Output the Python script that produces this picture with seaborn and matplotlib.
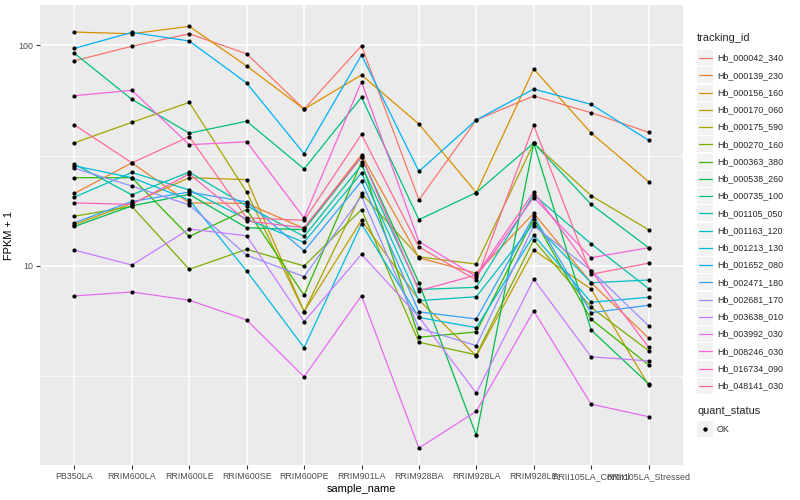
import matplotlib
matplotlib.use("Agg")
import matplotlib.pyplot as plt
from matplotlib.lines import Line2D
from matplotlib.patches import Rectangle
from matplotlib.ticker import FixedLocator, NullFormatter
import seaborn as sns
import pandas as pd

samples = ["PB350LA", "RRIM600LA", "RRIM600LE", "RRIM600SE", "RRIM600PE",
           "RRIM901LA", "RRIM928BA", "RRIM928LA", "RRIM928LE",
           "RRII105LA_Control", "RRII105LA_Stressed"]

tracking_ids = ["Hb_000042_340", "Hb_000139_230", "Hb_000156_160", "Hb_000170_060",
                "Hb_000175_590", "Hb_000270_160", "Hb_000363_380", "Hb_000538_260",
                "Hb_000735_100", "Hb_001105_050", "Hb_001163_120", "Hb_001213_130",
                "Hb_001652_080", "Hb_002471_180", "Hb_002681_170", "Hb_003638_010",
                "Hb_003992_030", "Hb_008246_030", "Hb_016734_090", "Hb_048141_030"]

# FPKM + 1 per sample (same order as samples)
hb_000042_340 = [84.9, 98.7, 112.5, 91.3, 51.3, 99.3, 19.9, 45.8, 58.8, 49.4, 40.3]
hb_000139_230 = [21.3, 29.3, 19.3, 19.2, 14.8, 31.9, 10.9, 9.27, 17.3, 8.40, 4.72]
hb_000156_160 = [114.5, 112.5, 121.5, 80.4, 51.3, 73.2, 43.9, 21.5, 77.9, 40.0, 24.1]
hb_000170_060 = [15.4, 19.2, 25.1, 24.6, 6.22, 16.1, 7.02, 3.92, 11.8, 7.87, 2.89]
hb_000175_590 = [36.1, 44.7, 55.0, 21.6, 6.22, 21.3, 11.0, 10.2, 36.0, 20.8, 14.6]
hb_000270_160 = [16.8, 18.6, 9.66, 11.9, 10.0, 18.0, 4.52, 3.96, 13.1, 6.50, 4.14]
hb_000363_380 = [25.1, 25.1, 13.6, 18.0, 7.37, 29.6, 4.76, 5.03, 16.4, 5.74, 3.57]
hb_000538_260 = [15.1, 18.7, 21.1, 14.9, 14.6, 31.1, 8.40, 1.71, 36.0, 5.13, 2.93]
hb_000735_100 = [91.7, 56.8, 39.9, 45.2, 27.5, 58.0, 16.2, 21.5, 36.0, 19.0, 12.1]
hb_001105_050 = [28.9, 21.0, 26.6, 18.7, 13.6, 28.6, 7.83, 8.01, 21.0, 12.6, 7.90]
hb_001163_120 = [20.5, 26.5, 22.1, 16.3, 12.8, 26.4, 6.97, 7.26, 15.6, 8.40, 8.64]
hb_001213_130 = [28.4, 25.1, 19.9, 9.49, 4.27, 15.5, 5.85, 5.26, 13.8, 6.85, 7.22]
hb_001652_080 = [96.6, 114.1, 104.3, 67.3, 32.2, 90.1, 26.8, 45.8, 63.2, 53.9, 37.1]
hb_002471_180 = [15.7, 19.6, 21.6, 19.5, 11.7, 24.2, 6.20, 5.76, 16.8, 6.15, 6.64]
hb_002681_170 = [27.7, 23.0, 18.9, 11.2, 8.95, 20.7, 5.24, 4.36, 15.2, 9.54, 5.37]
hb_003638_010 = [11.8, 10.1, 14.7, 13.7, 5.60, 11.3, 5.88, 2.66, 8.71, 3.88, 3.72]
hb_003992_030 = [7.32, 7.63, 7.00, 5.70, 3.15, 7.34, 1.50, 2.20, 6.26, 2.37, 2.08]
hb_008246_030 = [59.0, 62.4, 35.4, 36.5, 16.5, 68.2, 12.9, 8.95, 20.4, 10.9, 12.1]
hb_016734_090 = [19.3, 19.0, 26.1, 16.0, 14.9, 31.2, 7.73, 9.11, 21.6, 9.54, 4.29]
hb_048141_030 = [43.5, 29.3, 38.5, 16.5, 16.1, 39.4, 12.2, 8.64, 43.3, 9.17, 10.3]

series = [hb_000042_340, hb_000139_230, hb_000156_160, hb_000170_060, hb_000175_590,
          hb_000270_160, hb_000363_380, hb_000538_260, hb_000735_100, hb_001105_050,
          hb_001163_120, hb_001213_130, hb_001652_080, hb_002471_180, hb_002681_170,
          hb_003638_010, hb_003992_030, hb_008246_030, hb_016734_090, hb_048141_030]

colors = ["#F8766D", "#EA8331", "#D89000", "#C09B00", "#A3A500", "#7CAE00", "#39B600",
          "#00BB4E", "#00BF7D", "#00C1A3", "#00BFC4", "#00BAE0", "#00B0F6", "#35A2FF",
          "#9590FF", "#C77CFF", "#E76BF3", "#FA62DB", "#FF62BC", "#FF6C91"]

rows = []
for tid, vals in zip(tracking_ids, series):
    for s, v in zip(samples, vals):
        rows.append({"sample_name": s, "tracking_id": tid, "fpkm1": v, "quant_status": "OK"})
df = pd.DataFrame(rows)

sns.set_theme(style="darkgrid")
plt.rcParams["font.family"] = ["Liberation Sans", "DejaVu Sans"]

fig = plt.figure(figsize=(8, 5), dpi=100)
ax = fig.add_axes([40 / 800, 1 - 465 / 500, (683 - 40) / 800, (465 - 5) / 500])
ax.set_facecolor("#EBEBEB")

palette = dict(zip(tracking_ids, colors))
sns.lineplot(data=df, x="sample_name", y="fpkm1", hue="tracking_id", palette=palette,
             estimator=None, sort=False, legend=False, linewidth=0.9, ax=ax)
sns.scatterplot(data=df, x="sample_name", y="fpkm1", color="black", s=9,
                linewidth=0, legend=False, ax=ax, zorder=5)

ax.set_yscale("log")
ax.set_ylim(1.257, 151.8)
ax.set_xlim(-0.6, len(samples) - 0.4)
ax.set_yticks([10, 100])
ax.set_yticklabels(["10", "100"])
ax.yaxis.set_minor_locator(FixedLocator([10 ** 0.5, 10 ** 1.5]))
ax.yaxis.set_minor_formatter(NullFormatter())
ax.set_xticks(range(len(samples)))
ax.set_xticklabels(samples)

ax.grid(True, which="major", color="white", linewidth=1.1)
ax.grid(True, which="minor", axis="y", color="white", linewidth=0.55)
ax.set_axisbelow(True)
for sp in ax.spines.values():
    sp.set_visible(False)
ax.tick_params(axis="both", which="major", length=3, width=0.8, color="#333333",
               labelsize=6.4, labelcolor="#4D4D4D", pad=2, bottom=True, left=True)
ax.tick_params(axis="y", which="minor", length=0)
ax.set_xlabel("sample_name", fontsize=7.9, color="black", labelpad=2)
ax.set_ylabel("FPKM + 1", fontsize=7.9, color="black", labelpad=3)

# legend: tracking_id
def fy(ypx):
    return 1 - ypx / 500

fig.text(697 / 800, fy(38), "tracking_id", fontsize=7.9, va="center", ha="left")
for i, (tid, c) in enumerate(zip(tracking_ids, colors)):
    yc = 58 + i * 17.25
    fig.add_artist(Rectangle((697 / 800, fy(yc + 8)), 16 / 800, 16 / 500,
                             transform=fig.transFigure, facecolor="#F2F2F2", edgecolor="none"))
    fig.add_artist(Line2D([698.5 / 800, 711.5 / 800], [fy(yc), fy(yc)],
                          transform=fig.transFigure, color=c, linewidth=0.9))
    fig.text(717 / 800, fy(yc), tid, fontsize=6.4, va="center", ha="left")

fig.text(697 / 800, fy(411), "quant_status", fontsize=7.9, va="center", ha="left")
fig.add_artist(Rectangle((697 / 800, fy(429 + 8)), 16 / 800, 16 / 500,
                         transform=fig.transFigure, facecolor="#F2F2F2", edgecolor="none"))
fig.add_artist(Line2D([705 / 800], [fy(429)], transform=fig.transFigure, marker="o",
                      markersize=2.2, color="black", linestyle="none"))
fig.text(717 / 800, fy(429), "OK", fontsize=6.4, va="center", ha="left")

fig.savefig("out.png", dpi=100, facecolor="white")
